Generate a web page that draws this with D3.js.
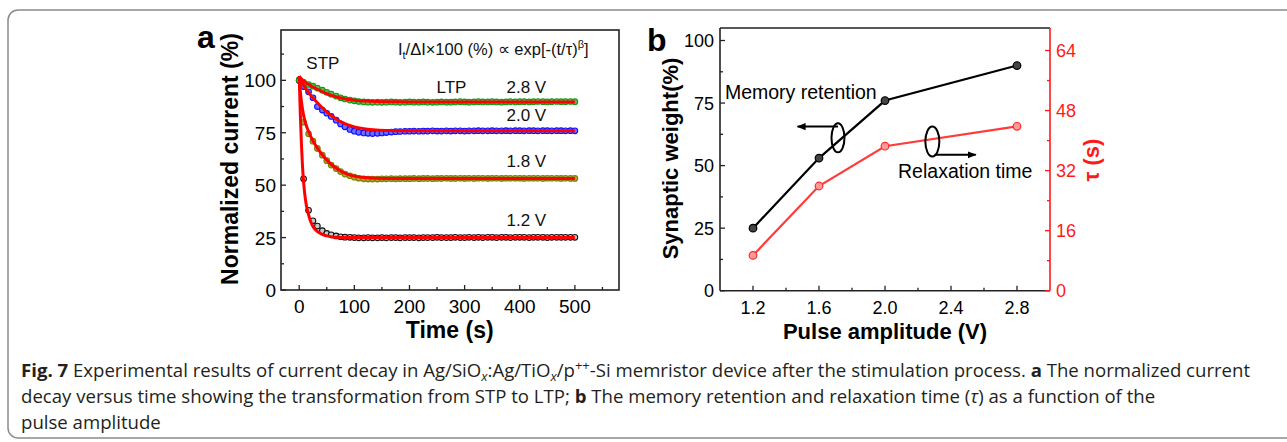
<!DOCTYPE html><head><meta charset="utf-8">
<title>Fig. 7 current decay</title>
<style>
body { margin: 0; background: white; }
svg text { font-family: "Liberation Sans", Arial, sans-serif; }
.cap { font-family: "Open Sans", sans-serif; fill: #231f20; }
</style>
<script src="https://cdn.jsdelivr.net/npm/d3@7"></script>
</head><body>
<svg id="fig" width="1287" height="442"></svg>
<script>
// ---- panel a: measured points (sampled every ~8.3 s) ----
var times = [0,8,17,25,33,42,50,58,67,75,83,92,
  100,108,117,125,133,142,150,158,167,175,183,192,
  200,208,217,225,233,242,250,258,267,275,283,292,
  300,308,317,325,333,342,350,358,367,375,383,392,
  400,408,417,425,433,442,450,458,467,475,483,492,
  500];
var green28 = [100,99.0,98.0,97.2,96.3,95.3,94.3,93.4,92.5,91.7,91.1,90.6,
  90.2,89.9,89.7,89.6,89.5,89.6,89.5,89.6,89.7,89.6,89.5,89.6,
  89.7,89.6,89.6,89.7,89.6,89.5,89.6,89.7,89.6,89.6,89.7,89.8,
  89.7,89.6,89.7,89.8,89.7,89.7,89.8,89.7,89.6,89.7,89.8,89.7,
  89.8,89.8,89.7,89.8,89.9,89.8,89.7,89.8,89.9,89.8,89.8,89.9,
  89.8];
var blue20 = [100,97.0,94.5,91.7,87.5,85.8,84.3,82.8,81.0,79.2,77.8,76.6,
  75.7,75.2,74.9,74.7,74.6,74.7,74.9,75.1,75.3,75.5,75.6,75.7,
  75.7,75.8,75.7,75.8,75.8,75.9,75.8,75.8,75.9,75.8,75.9,75.9,
  75.8,75.9,75.9,76.0,75.9,75.9,76.0,75.9,75.9,76.0,75.9,76.0,
  76.0,75.9,76.0,76.0,75.9,76.0,76.0,75.9,76.0,76.0,75.9,76.0,
  75.9];
var olive18 = [100,80.0,74.5,71.0,67.5,64.3,61.7,59.6,57.9,56.5,55.3,54.5,
  53.8,53.3,53.0,52.9,52.9,52.9,53.0,53.0,53.1,53.0,53.1,53.1,
  53.1,53.2,53.1,53.2,53.2,53.1,53.2,53.2,53.3,53.2,53.2,53.3,
  53.2,53.3,53.2,53.3,53.3,53.2,53.3,53.3,53.2,53.3,53.3,53.3,
  53.3,53.2,53.3,53.3,53.3,53.2,53.3,53.3,53.3,53.2,53.3,53.2,
  53.2];
var black12 = [100,53.0,38.0,33.0,30.5,28.3,27.0,26.3,25.8,25.4,25.2,25.1,
  25.0,24.9,24.9,25.0,24.9,24.9,25.0,24.9,25.0,25.0,24.9,25.0,
  25.0,25.0,24.9,25.0,25.0,25.0,25.1,25.0,25.0,25.0,25.1,25.0,
  25.0,25.1,25.0,25.1,25.0,25.1,25.1,25.0,25.1,25.1,25.0,25.1,
  25.1,25.1,25.0,25.1,25.1,25.1,25.0,25.1,25.1,25.1,25.1,25.1,
  25.1];

// stretched-exponential fits
var fitT = [0,2,4,6,8,10,12,15,20,25,30,40,50,60,70,80,90,100,120,140,170,200,300,400,500];
var fit28 = [102,101.3,100.7,100.2,99.8,99.3,98.9,98.4,97.6,96.8,96.1,94.8,93.6,92.7,91.9,91.3,90.9,90.5,90.1,89.9,89.8,89.7,89.7,89.7,89.7];
var fit20 = [102,100.6,99.5,98.5,97.6,96.8,96.0,94.9,93.2,91.6,90.1,87.4,85.0,82.9,81.1,79.7,78.6,77.8,76.8,76.3,76.0,75.9,75.9,75.9,75.9];
var fit18 = [102,95.0,90.0,86.3,83.3,81.0,79.2,76.9,73.8,71.2,68.9,65.1,62.0,59.5,57.6,56.1,55.0,54.3,53.6,53.3,53.2,53.2,53.2,53.2,53.2];
var fit12 = [102,84,70,59,51.5,46,42,38,33.2,30.3,28.6,26.7,25.8,25.3,25.1,25.0,25.0,25.0,25.0,25.0,25.0,25.0,25.0,25.0,25.0];

var seriesNames = ["1.2 V", "1.8 V", "2.0 V", "2.8 V"];

// ---- panel b ----
var amps = [1.2, 1.6, 2.0, 2.8];
var weight = [25, 53, 76, 90];
var tau = [9.4, 27.9, 38.5, 43.8];

var svg = d3.select("#fig");

// caption frame
svg.append("rect").attr("x", 8).attr("y", 10).attr("width", 1300).attr("height", 428)
  .attr("rx", 10).attr("fill", "none").attr("stroke", "#8a8a8a").attr("stroke-width", 1.5);

// generic inward ticks
function ticksIn(g, scale, vals, len, dir, orient, color) {
  g.selectAll(null).data(vals).join("line")
    .attr("x1", d => orient == "x" ? scale(d) : 0)
    .attr("x2", d => orient == "x" ? scale(d) : dir * len)
    .attr("y1", d => orient == "x" ? 0 : scale(d))
    .attr("y2", d => orient == "x" ? dir * len : scale(d))
    .attr("stroke", color).attr("stroke-width", 1.3);
}

// ================= panel a =================
var ax = d3.scaleLinear().domain([-33, 580]).range([281, 619]);
var ay = d3.scaleLinear().domain([0, 124]).range([290, 30]);

var ga = svg.append("g");
ga.append("rect").attr("x", 281).attr("y", 30).attr("width", 338).attr("height", 260)
  .attr("fill", "none").attr("stroke", "#222").attr("stroke-width", 1.6);

var gxa = ga.append("g").attr("transform", "translate(0,290)");
ticksIn(gxa, ax, [0,100,200,300,400,500], 5, -1, "x", "#222");
ticksIn(gxa, ax, [50,150,250,350,450,550], 3, -1, "x", "#222");
gxa.selectAll("text").data([0,100,200,300,400,500]).join("text")
  .attr("x", d => ax(d)).attr("y", 23).attr("text-anchor", "middle")
  .style("font-size", "19px").text(d => d);

var gya = ga.append("g").attr("transform", "translate(281,0)");
ticksIn(gya, ay, [0,25,50,75,100], 5, 1, "y", "#222");
ticksIn(gya, ay, [12.5,37.5,62.5,87.5,112.5], 3, 1, "y", "#222");
gya.selectAll("text").data([0,25,50,75,100]).join("text")
  .attr("x", -5).attr("y", d => ay(d) + 7).attr("text-anchor", "end")
  .style("font-size", "19px").text(d => d);

var pointSets = [
  {vals: black12, stroke: "#111", fill: "#c8c8c8"},
  {vals: olive18, stroke: "#7f7f00", fill: "#a8a830"},
  {vals: blue20, stroke: "#1010ff", fill: "#6f6fff"},
  {vals: green28, stroke: "#119911", fill: "#55c055"}
];
pointSets.forEach(function(s) {
  ga.append("g").selectAll("circle").data(s.vals).join("circle")
    .attr("cx", (d, i) => ax(times[i])).attr("cy", d => ay(d)).attr("r", 2.8)
    .attr("fill", s.fill).attr("stroke", s.stroke).attr("stroke-width", 1.1);
});

var fitLine = d3.line().x((d, i) => ax(fitT[i])).y(d => ay(d)).curve(d3.curveMonotoneX);
[fit12, fit18, fit20, fit28].forEach(function(f) {
  ga.append("path").datum(f).attr("d", fitLine)
    .attr("fill", "none").attr("stroke", "#ff0000").attr("stroke-width", 3);
});

// labels of panel a
var labA = ga.append("g").style("font-size", "17px").attr("fill", "#111");
labA.append("text").attr("x", ax(13)).attr("y", ay(105.6)).text("STP");
labA.append("text").attr("x", ax(249)).attr("y", ay(94.1)).text("LTP");
var vLab = [[1.2, 30.5], [1.8, 58.5], [2.0, 80.7], [2.8, 93.9]];
labA.selectAll("text.v").data(vLab).join("text").attr("class", "v")
  .attr("x", ax(376)).attr("y", d => ay(d[1])).text((d, i) => seriesNames[i]);
var formula = labA.append("text").attr("x", ax(179)).attr("y", ay(112)).style("font-size", "16.5px");
formula.append("tspan").text("I");
formula.append("tspan").attr("dy", 4).style("font-size", "11px").text("t");
formula.append("tspan").attr("dy", -4).text("/\u0394I\u00d7100 (%) \u221d exp[-(t/\u03c4)");
formula.append("tspan").attr("dy", -7).style("font-size", "11px").text("\u03b2");
formula.append("tspan").attr("dy", 7).text("]");

ga.append("text").attr("x", 197).attr("y", 48).style("font-size", "32px")
  .style("font-weight", "bold").text("a");
ga.append("text").attr("x", ax(273)).attr("y", 338).attr("text-anchor", "middle")
  .style("font-size", "23px").style("font-weight", "bold").text("Time (s)");
ga.append("text").attr("transform", "translate(238,159) rotate(-90)").attr("text-anchor", "middle")
  .style("font-size", "23px").style("font-weight", "bold").text("Normalized current (%)");

// ================= panel b =================
var bx = d3.scaleLinear().domain([1.0, 3.0]).range([720, 1050]);
var byL = d3.scaleLinear().domain([0, 105]).range([290.7, 28]);
var byR = d3.scaleLinear().domain([0, 70]).range([290.7, 28]);

var gb = svg.append("g");
gb.append("line").attr("x1", 720).attr("x2", 1050).attr("y1", 28).attr("y2", 28)
  .attr("stroke", "#222").attr("stroke-width", 1.6);
gb.append("line").attr("x1", 720).attr("x2", 1050).attr("y1", 290.7).attr("y2", 290.7)
  .attr("stroke", "#222").attr("stroke-width", 1.6);
gb.append("line").attr("x1", 720).attr("x2", 720).attr("y1", 28).attr("y2", 290.7)
  .attr("stroke", "#222").attr("stroke-width", 1.6);
gb.append("line").attr("x1", 1050).attr("x2", 1050).attr("y1", 28).attr("y2", 290.7)
  .attr("stroke", "#ff1a1a").attr("stroke-width", 1.6);

var gxb = gb.append("g").attr("transform", "translate(0,290.7)");
ticksIn(gxb, bx, [1.2,1.6,2.0,2.4,2.8], 5, -1, "x", "#222");
ticksIn(gxb, bx, [1.4,1.8,2.2,2.6], 3, -1, "x", "#222");
gxb.selectAll("text").data([1.2,1.6,2.0,2.4,2.8]).join("text")
  .attr("x", d => bx(d)).attr("y", 23).attr("text-anchor", "middle")
  .style("font-size", "18px").text(d => d.toFixed(1));

var gyb = gb.append("g").attr("transform", "translate(720,0)");
ticksIn(gyb, byL, [0,25,50,75,100], 5, 1, "y", "#222");
ticksIn(gyb, byL, [12.5,37.5,62.5,87.5], 3, 1, "y", "#222");
gyb.selectAll("text").data([0,25,50,75,100]).join("text")
  .attr("x", -6).attr("y", d => byL(d) + 6.5).attr("text-anchor", "end")
  .style("font-size", "18px").text(d => d);

var gyr = gb.append("g").attr("transform", "translate(1050,0)");
ticksIn(gyr, byR, [0,16,32,48,64], 5, -1, "y", "#ff1a1a");
ticksIn(gyr, byR, [8,24,40,56], 3, -1, "y", "#ff1a1a");
gyr.selectAll("text").data([0,16,32,48,64]).join("text")
  .attr("x", 6).attr("y", d => byR(d) + 6.5).attr("fill", "#ff1a1a")
  .style("font-size", "18px").text(d => d);

var lineW = d3.line().x((d, i) => bx(amps[i])).y(d => byL(d));
var lineT = d3.line().x((d, i) => bx(amps[i])).y(d => byR(d));
gb.append("path").datum(weight).attr("d", lineW).attr("fill", "none")
  .attr("stroke", "#000").attr("stroke-width", 2.2);
gb.append("path").datum(tau).attr("d", lineT).attr("fill", "none")
  .attr("stroke", "#ff3b3b").attr("stroke-width", 2.2);
gb.append("g").selectAll("circle").data(weight).join("circle")
  .attr("cx", (d, i) => bx(amps[i])).attr("cy", d => byL(d)).attr("r", 3.8)
  .attr("fill", "#444").attr("stroke", "#000").attr("stroke-width", 1.2);
gb.append("g").selectAll("circle").data(tau).join("circle")
  .attr("cx", (d, i) => bx(amps[i])).attr("cy", d => byR(d)).attr("r", 3.8)
  .attr("fill", "#ff9a9a").attr("stroke", "#ff2a2a").attr("stroke-width", 1.2);

// annotations: ellipses with arrows
var defs = svg.append("defs");
defs.append("marker").attr("id", "arr").attr("viewBox", "0 0 10 10").attr("refX", 9).attr("refY", 5)
  .attr("markerWidth", 4.5).attr("markerHeight", 4.5).attr("orient", "auto")
  .append("path").attr("d", "M0,1 L10,5 L0,9 z").attr("fill", "#000");

gb.append("ellipse").attr("cx", bx(1.715)).attr("cy", byL(61.1)).attr("rx", 6.5).attr("ry", 14.5)
  .attr("fill", "none").attr("stroke", "#000").attr("stroke-width", 2);
gb.append("line").attr("x1", bx(1.715)).attr("x2", bx(1.47)).attr("y1", byL(65.6)).attr("y2", byL(65.6))
  .attr("stroke", "#000").attr("stroke-width", 2).attr("marker-end", "url(#arr)");
gb.append("ellipse").attr("cx", bx(2.287)).attr("cy", byL(59.6)).attr("rx", 7).attr("ry", 15)
  .attr("fill", "none").attr("stroke", "#000").attr("stroke-width", 2);
gb.append("line").attr("x1", bx(2.3)).attr("x2", bx(2.55)).attr("y1", byL(54.3)).attr("y2", byL(54.3))
  .attr("stroke", "#000").attr("stroke-width", 2).attr("marker-end", "url(#arr)");

gb.append("text").attr("x", bx(1.03)).attr("y", byL(76.6)).style("font-size", "19.5px").text("Memory retention");
gb.append("text").attr("x", bx(2.079)).attr("y", byL(45.1)).style("font-size", "19.5px").text("Relaxation time");

gb.append("text").attr("x", 647).attr("y", 51).style("font-size", "32px")
  .style("font-weight", "bold").text("b");
gb.append("text").attr("x", bx(2.0)).attr("y", 339).attr("text-anchor", "middle")
  .style("font-size", "22px").style("font-weight", "bold").text("Pulse amplitude (V)");
gb.append("text").attr("transform", "translate(678,158.5) rotate(-90)").attr("text-anchor", "middle")
  .style("font-size", "22px").style("font-weight", "bold").text("Synaptic weight(%)");
gb.append("text").attr("transform", "translate(1099,160) rotate(-90)").attr("text-anchor", "middle")
  .attr("fill", "#ff1a1a").style("font-size", "22px").style("font-weight", "bold").text("\u03c4 (s)");

// ================= caption =================
var cap = svg.append("g").attr("class", "cap").style("font-size", "18.6px");
var l1 = cap.append("text").attr("class", "cap").attr("x", 21).attr("y", 377);
l1.append("tspan").style("font-weight", "bold").text("Fig. 7");
l1.append("tspan").text(" Experimental results of current decay in Ag/SiO");
l1.append("tspan").attr("dy", 4).style("font-size", "13px").style("font-style", "italic").text("x");
l1.append("tspan").attr("dy", -4).text(":Ag/TiO");
l1.append("tspan").attr("dy", 4).style("font-size", "13px").style("font-style", "italic").text("x");
l1.append("tspan").attr("dy", -4).text("/p");
l1.append("tspan").attr("dy", -7).style("font-size", "13px").text("++");
l1.append("tspan").attr("dy", 7).text("-Si memristor device after the stimulation process. ");
l1.append("tspan").style("font-weight", "bold").text("a");
l1.append("tspan").text(" The normalized current");

var l2 = cap.append("text").attr("class", "cap").attr("x", 21).attr("y", 403);
l2.append("tspan").text("decay versus time showing the transformation from STP to LTP; ");
l2.append("tspan").style("font-weight", "bold").text("b");
l2.append("tspan").text(" The memory retention and relaxation time (");
l2.append("tspan").style("font-style", "italic").text("\u03c4");
l2.append("tspan").text(") as a function of the");

cap.append("text").attr("class", "cap").attr("x", 21).attr("y", 429).text("pulse amplitude");
</script>
</body></html>
